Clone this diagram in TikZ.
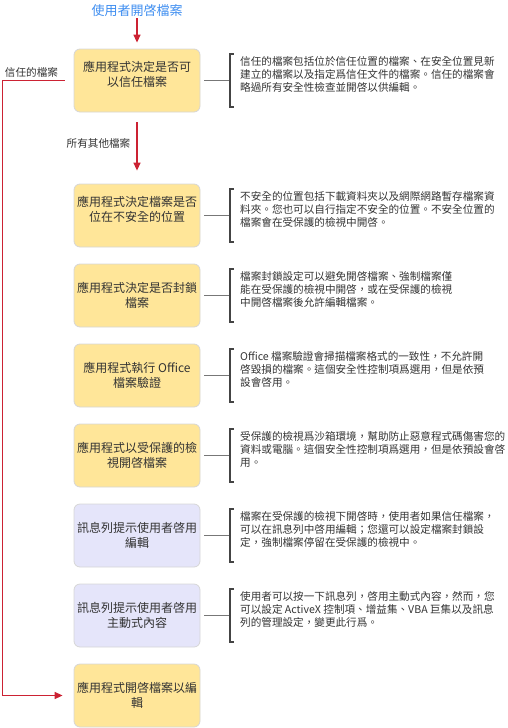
\documentclass[tikz,border=0pt]{standalone}
\usepackage{fontspec}
\setmainfont{Noto Sans CJK TC}
\usetikzlibrary{arrows.meta}
\definecolor{boxyellow}{HTML}{FFE699}
\definecolor{boxlav}{HTML}{E5E5FA}
\definecolor{boxborder}{HTML}{D6D6D6}
\definecolor{flowred}{HTML}{CC2233}
\definecolor{titleblue}{HTML}{3F8EF0}
\definecolor{txt}{HTML}{333333}
\definecolor{connect}{HTML}{777777}
\definecolor{brk}{HTML}{444444}
\tikzset{
  stepbox/.style={rectangle, rounded corners=6pt, draw=boxborder, line width=0.8pt,
    minimum width=126pt, minimum height=63pt, inner sep=2pt, align=center,
    text=txt, font=\fontsize{12}{14.5}\selectfont},
  yellowbox/.style={stepbox, fill=boxyellow},
  lavbox/.style={stepbox, fill=boxlav},
  boxtext/.style={inner sep=0pt, align=center, text=txt, font=\fontsize{12}{14.5}\selectfont},
  desc/.style={anchor=north west, inner sep=0pt, align=left, text=txt,
    font=\fontsize{10.6}{13}\selectfont},
  lbl/.style={inner sep=0pt, text=txt, font=\fontsize{10.6}{13}\selectfont},
  flow/.style={draw=flowred, line width=1.4pt, -{Triangle[length=8pt,width=7pt]}},
  conn/.style={draw=connect, line width=1.8pt, shorten <=4pt},
  bracket/.style={draw=brk, line width=1.3pt},
}
\begin{document}
\begin{tikzpicture}[x=1pt,y=-1pt]
\useasboundingbox (0,0) rectangle (508,728);
\clip (0,0) rectangle (508,728);

% title
\node[inner sep=1pt, text=titleblue, font=\fontsize{13}{15}\selectfont] (title) at (137,11) {使用者開啓檔案};

% boxes
\node[yellowbox] (b1) at (137,80.5) {};
\node[boxtext] (t1) at ([yshift=6pt]b1.center) {應用程式決定是否可\\以信任檔案};
\node[yellowbox] (b2) at (137,215.5) {};
\node[boxtext] (t2) at ([yshift=6pt]b2.center) {應用程式決定檔案是否\\位在不安全的位置};
\node[yellowbox] (b3) at (137,295.5) {應用程式決定是否封鎖\\檔案};
\node[yellowbox] (b4) at (137,375.5) {應用程式執行 Office\\檔案驗證};
\node[yellowbox] (b5) at (137,455.5) {應用程式以受保護的檢\\視開啓檔案};
\node[lavbox] (b6) at (137,535.5) {訊息列提示使用者啓用\\編輯};
\node[lavbox] (b7) at (137,615.5) {訊息列提示使用者啓用\\主動式內容};
\node[yellowbox] (b8) at (137,695.5) {應用程式開啓檔案以編\\輯};

% flow arrows
\draw[flow, shorten >=6pt] (title) -- (b1);
\draw[flow, shorten <=10pt, shorten >=13pt] (b1) -- (b2);
\node[lbl] (l1) at (98.5,143) {所有其他檔案};

\coordinate (c1) at (2.5,80.5);
\draw[flow, shorten <=9pt, shorten >=11pt] (b1.west) -- (c1) |- (b8.west);
\node[lbl] (l2) at (31.5,72) {信任的檔案};

% brackets and descriptions
\foreach \b/\y in {b1/80.5,b2/215.5,b3/295.5,b4/375.5,b5/455.5,b6/535.5,b7/615.5}{
  \coordinate (k\b) at (230,\y);
  \draw[conn] (\b.east) -- (k\b);
  \draw[bracket] (k\b) ++(3.5,-26.5) -- ++(-3.5,0) -- ++(0,53) -- ++(3.5,0);
}

\node[desc] (d1) at (240,56.2) {信任的檔案包括位於信任位置的檔案、在安全位置見新\\建立的檔案以及指定爲信任文件的檔案。信任的檔案會\\略過所有安全性檢查並開啓以供編輯。};
\node[desc] (d2) at (240,191.2) {不安全的位置包括下載資料夾以及網際網路暫存檔案資\\料夾。您也可以自行指定不安全的位置。不安全位置的\\檔案會在受保護的檢視中開啓。};
\node[desc] (d3) at (240,271.2) {檔案封鎖設定可以避免開啓檔案、強制檔案僅\\能在受保護的檢視中開啓，或在受保護的檢視\\中開啓檔案後允許編輯檔案。};
\node[desc] (d4) at (240,351.2) {Office 檔案驗證會掃描檔案格式的一致性，不允許開\\啓毀損的檔案。這個安全性控制項爲選用，但是依預\\設會啓用。};
\node[desc] (d5) at (240,431.2) {受保護的檢視爲沙箱環境，幫助防止惡意程式碼傷害您的\\資料或電腦。這個安全性控制項爲選用，但是依預設會啓\\用。};
\node[desc] (d6) at (240,511.2) {檔案在受保護的檢視下開啓時，使用者如果信任檔案，\\可以在訊息列中啓用編輯；您還可以設定檔案封鎖設\\定，強制檔案停留在受保護的檢視中。};
\node[desc] (d7) at (240,591.2) {使用者可以按一下訊息列，啓用主動式內容，然而，您\\可以設定 ActiveX 控制項、增益集、VBA 巨集以及訊息\\列的管理設定，變更此行爲。};
\end{tikzpicture}
\end{document}
